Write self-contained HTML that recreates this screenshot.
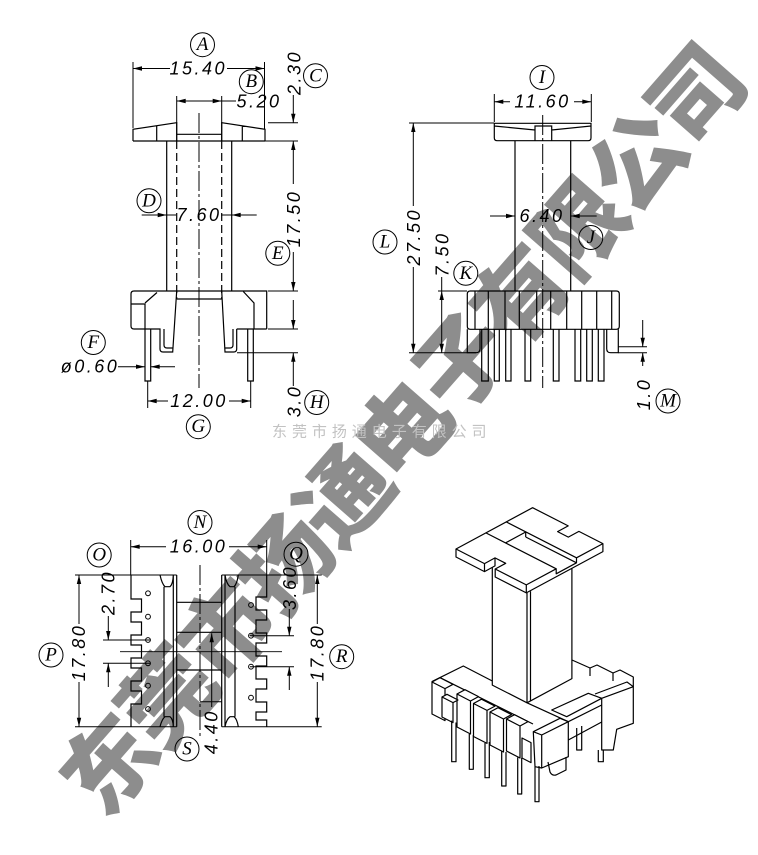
<!DOCTYPE html>
<html><head><meta charset="utf-8">
<style>
html,body{margin:0;padding:0;background:#fff;}
svg{display:block;}
.d{font-family:"Liberation Sans",sans-serif;font-style:italic;font-size:18px;letter-spacing:2.5px;fill:#000;}
.c{font-family:"Liberation Serif",serif;font-style:italic;font-size:19px;fill:#000;}
</style></head><body>
<svg width="758" height="855" viewBox="0 0 758 855" xmlns="http://www.w3.org/2000/svg">
<rect width="758" height="855" fill="#fff"/>

<!-- big watermark -->
<g fill="#8d8d8d" font-family="'Noto Sans CJK SC','WenQuanYi Zen Hei',sans-serif" font-weight="900" font-size="92" text-anchor="middle" dominant-baseline="central">
<text x="105" y="760" transform="rotate(-48.8 105 760)">东</text>
<text x="163.7" y="693" transform="rotate(-48.8 163.7 693)">莞</text>
<text x="222.4" y="626" transform="rotate(-48.8 222.4 626)">市</text>
<text x="281.1" y="559" transform="rotate(-48.8 281.1 559)">扬</text>
<text x="339.8" y="492" transform="rotate(-48.8 339.8 492)">通</text>
<text x="398.5" y="425" transform="rotate(-48.8 398.5 425)">电</text>
<text x="457.2" y="358" transform="rotate(-48.8 457.2 358)">子</text>
<text x="515.9" y="291" transform="rotate(-48.8 515.9 291)">有</text>
<text x="574.6" y="224" transform="rotate(-48.8 574.6 224)">限</text>
<text x="633.3" y="157" transform="rotate(-48.8 633.3 157)">公</text>
<text x="692" y="90" transform="rotate(-48.8 692 90)">司</text>
</g>

<!-- small text -->
<g fill="#c2c2c2" font-family="'Noto Sans CJK SC',sans-serif" font-size="15" text-anchor="middle" dominant-baseline="central">
<text x="279.5" y="431">东</text><text x="299.5" y="431">莞</text><text x="319.4" y="431">市</text><text x="339.4" y="431">扬</text><text x="359.3" y="431">通</text><text x="379.3" y="431">电</text><text x="399.2" y="431">子</text><text x="419.2" y="431">有</text><text x="439.1" y="431">限</text><text x="459.1" y="431">公</text><text x="479" y="431">司</text>
</g>

<g stroke="#000" fill="none" stroke-width="1.2">
<!-- ===== TOP-LEFT VIEW ===== -->
<path d="M133,62V128 M264.5,62V129 M176.7,96V141 M221.7,96V141 M268,122.7H298 M265,141H298 M268,291H298 M268,329H298 M237,352.7H298" stroke-width="1"/>
<path d="M133,68.5H170 M227,68.5H264.5 M176.7,101H236 M293.3,95V122.7 M293.3,141V184 M293.3,252V291 M293.3,300V329 M293.3,352.7V386 M141.7,215H176 M221,215H256.7 M118,366.7H145 M150.7,366.7H175 M147.7,381V408 M250.7,381V408 M147.7,401H168 M229,401H250.7" stroke-width="1"/>
<path d="M133,141V129.3L176.7,122.7V141 M176.7,134.3H221.7 M221.7,141V122.7L265,129.3V141 M133,141H265 M156.7,126V141 M242.3,126V141"/>
<path d="M166.7,141V291 M231.7,141V291"/>
<path d="M176.7,141V299 M221.7,141V299" stroke-dasharray="8 4"/>
<path d="M199,113V388" stroke-width="1" stroke-dasharray="20 3 3 3"/>
<path d="M134,291H266.7V329 M134,291Q131,291 131,294V326Q131,329 134,329H160V349Q160,352 163,352H172.7L176.7,291 M164,329V345Q164,348 167,348H173"/>
<path d="M236.7,329V349Q236.7,352 233.7,352H225L221.7,291 M233,329V345Q233,348 230,348H225 M236.7,329H266.7"/>
<path d="M131,304H145V329 M145,303L157,292.5 M176.7,299H221.7 M243.3,291.5L254,303V329"/>
<path d="M145,329V381H150.7V329 M247.7,329V381H253.3V329"/>

<!-- ===== TOP-RIGHT VIEW ===== -->
<path d="M494.3,94V122 M591.3,94V122 M409,123H494 M438,291H467 M409,352.7H476 M618.3,346.7H647 M618.3,352.7H647" stroke-width="1"/>
<path d="M494.3,101.7H510 M574,101.7H591.3 M490,216H515 M570.7,216H596.7 M413.3,123V206 M413.3,267V352.7 M441.7,277V352.7 M642.7,320V346.7 M642.7,352.7V366" stroke-width="1"/>
<path d="M494.3,123.3H591V137.7Q591,140.7 588,140.7H497.3Q494.3,140.7 494.3,137.7Z M494.3,126L535,130 M551.7,130L591,126 M535,140.7V126H551.7V140.7"/>
<path d="M515,140.7V291 M570.7,140.7V291"/>
<path d="M542.7,115V388" stroke-width="1" stroke-dasharray="20 3 3 3"/>
<path d="M470.3,291H616.3Q619.3,291 619.3,294V326.3Q619.3,329.3 616.3,329.3H470.3Q467.3,329.3 467.3,326.3V294Q467.3,291 470.3,291Z"/>
<path d="M475,291V329.3 M488.3,291V329.3 M505,291V329.3 M519.3,291V329.3 M536.7,291V329.3 M550.7,291V329.3 M566.7,291V329.3 M581.7,291V329.3 M596.7,291V329.3 M611.7,291V329.3"/>
<path d="M467.3,329.3V352.7H476Q480,352.7 480,348.7V329.3 M606.7,329.3V348.7Q606.7,352.7 610.7,352.7H618.3V329.3"/>
<path d="M481.7,329.3V381H488.3V329.3 M494.3,329.3V381H499.3V329.3 M505.7,329.3V381H511V329.3 M525,329.3V381H530.7V329.3 M553.3,329.3V381H559V329.3 M575,329.3V381H580.7V329.3 M586.7,329.3V381H592.3V329.3 M598.3,329.3V381H604V329.3"/>

<!-- ===== BOTTOM-LEFT VIEW ===== -->
<path d="M130.7,540V575 M266.7,540V575 M75,575H176.7 M221.7,575H321.7 M75,726.7H176.7 M221.7,726.7H321.7 M103,640H150 M103,663.3H150 M250,635.7H294 M250,666.7H294 M200,701.7H221.7" stroke-width="1"/>
<path d="M130.7,546.7H166 M229,546.7H266.7 M79,575V624 M79,682V726.7 M317.3,575V624 M317.3,682V726.7 M108.3,616V640 M108.3,663.3V687 M289.3,609V635.7 M289.3,666.7V690 M211.7,633.3V707" stroke-width="1"/>
<path d="M120,651.7H282" stroke-width="0.9"/>
<path d="M200,565V737" stroke-width="1" stroke-dasharray="20 3 3 3"/>
<path d="M131,575V599H141.5V612H131V622H141.5V635H131V645H141.5V658H131V668H141.5V681H131V691H141.5V704H131V726.7"/>
<path d="M164,586.7V716.7 M173.3,575V726.7 M176.7,575V726.7 M160,575Q162,584 165,586.7H170Q173,584 173.3,575 M160,726.7Q162,719 165,716.7H170Q173,719 173.3,726.7"/>
<path d="M176.7,602.3H221.7 M176.7,632.3H221.7 M176.7,670H221.7"/>
<path d="M221.7,575V726.7 M225,575V726.7 M235,586.7V716.7 M225,575Q226.5,584 230,586.7H234Q237,584 238.3,575 M225,726.7Q226.5,719 230,716.7H234Q237,719 238.3,726.7"/>
<path d="M266.7,575V597H256V610H266.7V620H256V633H266.7V643H256V656H266.7V666H256V679H266.7V689H256V702H266.7V712H256V720H266.7V726.7"/>
<g stroke-width="1">
<circle cx="148" cy="593.3" r="2.4"/><circle cx="148" cy="616.7" r="2.4"/><circle cx="148" cy="640" r="2.4"/><circle cx="148" cy="663.3" r="2.4"/><circle cx="148" cy="685.7" r="2.4"/><circle cx="148" cy="709" r="2.4"/>
<circle cx="251" cy="605" r="2.4"/><circle cx="251" cy="635.7" r="2.4"/><circle cx="251" cy="666.7" r="2.4"/><circle cx="251" cy="697.7" r="2.4"/>
</g>

<!-- ===== 3D VIEW ===== -->
<g stroke-linejoin="round" fill="#fff">
<path d="M492.3,567.5V685.1L527,702.8L571.9,678.6V568.3"/>
<path d="M527,593V702.8 M530.5,591.2V701" fill="none"/>
<path d="M456,549L484.5,563.6L495,557.9L505.7,563.3L495.2,569L526.3,584.9L556.2,568.8V573.8L576.5,562.8V557.8L602.9,543.6L578.9,531.4L568.3,537.1L557.6,531.6L568.2,525.9L532.6,507.7Z"/>
<path d="M456,549V557L484.5,571.6V563.6 M484.5,571.6L495,565.9V557.9 M495.2,569V577L526.3,592.9V584.9 M526.3,592.9L602.9,551.6V543.6" fill="none"/>
<path d="M485.9,532.9L556.2,568.8 M506.2,521.9L576.5,557.8 M525.7,537L576.5,562.8 M505.5,542.9L525.7,532V537" fill="none"/>
<path d="M431.7,681.7L463.3,666L492.3,681 M440,677.7L533,724 M527,702.8L568.3,721.7" fill="none"/>
<path d="M572,660L590,668V676 M590,668L597,665L613,673V681 M613,673L620,670L633.3,677V686.7" fill="none"/>
<path d="M551.7,710L588.3,693.3L601.7,698.3L566.7,716.7Z"/>
<path d="M601.7,698.3L633.3,686.7V723.3L616.7,729.3L613.3,750H601.7Z"/>
<path d="M595,694L627,682L633.3,686.7" fill="none"/>
<path d="M568.3,721.7L601.7,705 M568.3,740L601.7,722" fill="none"/>
<path d="M432,682V714L445,720.6V688.6Z M432,682L440,677.7L453,684.3L445,688.6"/>
<path d="M457,694V727L470.5,734V701Z M457,694L465,689.7L478.5,696.6L470.5,701"/>
<path d="M473.5,703.5V736.5L487,743.4V710.4Z M473.5,703.5L481.5,699.2L495,706.1L487,710.4"/>
<path d="M490,712V745L503.5,752V719Z M490,712L498,707.7L511.5,714.6L503.5,719"/>
<path d="M506.5,719V751L520,758V726Z M506.5,719L514.5,714.7L528,721.6L520,726"/>
<path d="M442,697V717L453,722.6V702.6Z M442,697L447,694.3L458,700L453,702.6"/>
<path d="M522,738V758L531,762.6V742.6Z"/>
<path d="M533.3,731.7L541.7,735V768L535,766.7Z M541.7,735L568.3,721.7V756.7L541.7,768Z M533.3,731.7L560,718.3L568.3,721.7"/>
<path d="M548,762L550,772Q552,776 556,775L566,770V757" fill="none"/>
<path d="M451.7,720.6V761.7H456V722.5 M469.3,734V769.3H473.3V735 M485,743V777.7H489.3V742 M501.7,751V786H506V752 M517.7,757.5V794H521.7V758 M535,767V801.7H539V766 M576.7,728V750H581.7V726 M598.3,750V761.7H603.3V750" fill="none"/>
</g>
</g>

<!-- arrowheads -->
<g fill="#000">
<polygon points="133,68.5 142,66.3 142,70.7"/><polygon points="264.5,68.5 255.5,66.3 255.5,70.7"/>
<polygon points="176.7,101 185.7,98.8 185.7,103.2"/><polygon points="221.7,101 212.7,98.8 212.7,103.2"/>
<polygon points="293.3,122.7 291.1,113.7 295.5,113.7"/>
<polygon points="293.3,141 291.1,150 295.5,150"/><polygon points="293.3,291 291.1,282 295.5,282"/>
<polygon points="293.3,329 291.1,320 295.5,320"/><polygon points="293.3,352.7 291.1,361.7 295.5,361.7"/>
<polygon points="166.7,215 157.7,212.8 157.7,217.2"/><polygon points="231.7,215 240.7,212.8 240.7,217.2"/>
<polygon points="145,366.7 136,364.5 136,368.9"/><polygon points="150.7,366.7 159.7,364.5 159.7,368.9"/>
<polygon points="147.7,401 156.7,398.8 156.7,403.2"/><polygon points="250.7,401 241.7,398.8 241.7,403.2"/>
<polygon points="494.3,101.7 503.3,99.5 503.3,103.9"/><polygon points="591.3,101.7 582.3,99.5 582.3,103.9"/>
<polygon points="515,216 506,213.8 506,218.2"/><polygon points="570.7,216 579.7,213.8 579.7,218.2"/>
<polygon points="413.3,123 411.1,132 415.5,132"/><polygon points="413.3,352.7 411.1,343.7 415.5,343.7"/>
<polygon points="441.7,291 439.5,300 443.9,300"/><polygon points="441.7,352.7 439.5,343.7 443.9,343.7"/>
<polygon points="642.7,346.7 640.5,337.7 644.9,337.7"/><polygon points="642.7,352.7 640.5,361.7 644.9,361.7"/>
<polygon points="130.7,546.7 139.7,544.5 139.7,548.9"/><polygon points="266.7,546.7 257.7,544.5 257.7,548.9"/>
<polygon points="79,575 76.8,584 81.2,584"/><polygon points="79,726.7 76.8,717.7 81.2,717.7"/>
<polygon points="317.3,575 315.1,584 319.5,584"/><polygon points="317.3,726.7 315.1,717.7 319.5,717.7"/>
<polygon points="108.3,640 106.1,631 110.5,631"/><polygon points="108.3,663.3 106.1,672.3 110.5,672.3"/>
<polygon points="289.3,635.7 287.1,626.7 291.5,626.7"/><polygon points="289.3,666.7 287.1,675.7 291.5,675.7"/>
<polygon points="211.7,633.3 209.5,642.3 213.9,642.3"/>
</g>

<!-- dimension texts -->
<g class="d" text-anchor="middle" dominant-baseline="central">
<text x="198.3" y="68.5">15.40</text>
<text x="259" y="101.5">5.20</text>
<text x="199" y="215">7.60</text>
<text x="90" y="366.7">ø0.60</text>
<text x="199" y="401">12.00</text>
<text x="542.5" y="101.7">11.60</text>
<text x="542" y="216">6.40</text>
<text x="198.5" y="546.7">16.00</text>
<text x="294.5" y="72.5" transform="rotate(-90 294.5 72.5)">2.30</text>
<text x="294" y="218.5" transform="rotate(-90 294 218.5)">17.50</text>
<text x="294.5" y="401" transform="rotate(-90 294.5 401)">3.0</text>
<text x="414" y="236.7" transform="rotate(-90 414 236.7)">27.50</text>
<text x="442.5" y="254" transform="rotate(-90 442.5 254)">7.50</text>
<text x="644" y="394" transform="rotate(-90 644 394)">1.0</text>
<text x="79" y="652.5" transform="rotate(-90 79 652.5)">17.80</text>
<text x="317.5" y="652.5" transform="rotate(-90 317.5 652.5)">17.80</text>
<text x="108.3" y="592.5" transform="rotate(-90 108.3 592.5)">2.70</text>
<text x="290" y="587.5" transform="rotate(-90 290 587.5)">3.60</text>
<text x="211.7" y="731.7" transform="rotate(-90 211.7 731.7)">4.40</text>
</g>

<!-- circled labels -->
<g fill="none" stroke="#000" stroke-width="1">
<circle cx="202.5" cy="44.7" r="12"/><circle cx="251.3" cy="81.7" r="12"/><circle cx="315.5" cy="75.8" r="12"/>
<circle cx="149" cy="200.8" r="12"/><circle cx="277.8" cy="253.3" r="12"/><circle cx="93.3" cy="342.5" r="12"/>
<circle cx="198.3" cy="426.7" r="12"/><circle cx="316.7" cy="402.5" r="12"/>
<circle cx="542" cy="77.5" r="12"/><circle cx="590.8" cy="237.5" r="12"/><circle cx="465.8" cy="273.3" r="12"/>
<circle cx="385" cy="242" r="12"/><circle cx="668" cy="401" r="12"/>
<circle cx="200" cy="522.5" r="12"/><circle cx="99.2" cy="555" r="12"/><circle cx="296" cy="554.2" r="12"/>
<circle cx="51" cy="655" r="12"/><circle cx="341.7" cy="656.7" r="12"/><circle cx="187" cy="749" r="12"/>
</g>
<g class="c" text-anchor="middle" dominant-baseline="central">
<text x="202.5" y="44.7">A</text><text x="251.3" y="81.7">B</text><text x="315.5" y="75.8">C</text>
<text x="149" y="200.8">D</text><text x="277.8" y="253.3">E</text><text x="93.3" y="342.5">F</text>
<text x="198.3" y="426.7">G</text><text x="316.7" y="402.5">H</text>
<text x="542" y="77.5">I</text><text x="590.8" y="237.5">J</text><text x="465.8" y="273.3">K</text>
<text x="385" y="242">L</text><text x="668" y="401">M</text>
<text x="200" y="522.5">N</text><text x="99.2" y="555">O</text><text x="296" y="554.2">Q</text>
<text x="51" y="655">P</text><text x="341.7" y="656.7">R</text><text x="187" y="749">S</text>
</g>
</svg>
</body></html>
